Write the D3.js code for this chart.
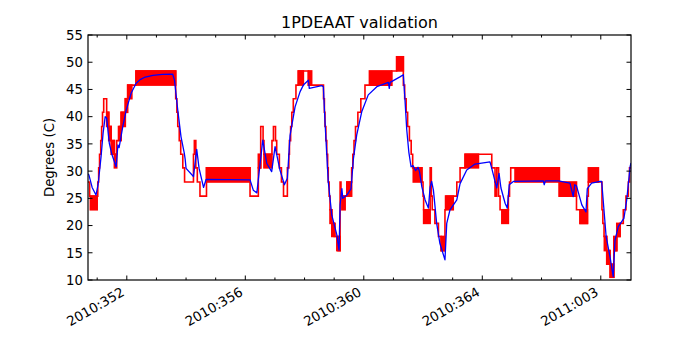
<!DOCTYPE html>
<html>
<head>
<meta charset="utf-8">
<script src="https://cdn.jsdelivr.net/npm/d3@7"></script>
<style>
  body { margin: 0; background: #fff; }
  svg { display: block; font-family: "DejaVu Sans", sans-serif; }
</style>
</head>
<body>
<svg id="chart" width="700" height="350"></svg>
<script>
// ---- data (x = day of 2010, so 2011:003 = 368) ----
const title = "1PDEAAT validation";
const yLabel = "Degrees (C)";
const xMajorDays = [352, 356, 360, 364, 368];
const xMajorLabels = ["2010:352", "2010:356", "2010:360", "2010:364", "2011:003"];
const yTicks = [10, 15, 20, 25, 30, 35, 40, 45, 50, 55];
const xDomain = [350.69, 369.02];
const yDomain = [10, 55];

// telemetry (red), stepped
const telemDays = [350.69, 350.745, 351.02, 351.05, 351.08, 351.12, 351.15, 351.18, 351.22, 351.32,
  351.39, 351.47, 351.58, 351.66, 351.72, 351.81, 351.95, 352.03, 352.31, 353.65,
  353.69, 353.72, 353.77, 353.82, 353.89, 353.95, 354.25, 354.28, 354.33, 354.38,
  354.47, 354.69, 356.16, 356.44, 356.52, 356.60, 356.63, 356.90, 356.95, 357.02,
  357.06, 357.15, 357.22, 357.29, 357.42, 357.47, 357.49, 357.53, 357.57, 357.62,
  357.71, 357.79, 358.13, 358.64, 358.67, 358.69, 358.72, 358.75, 358.78, 358.80,
  358.83, 358.86, 358.92, 359.00, 359.13, 359.20, 359.23, 359.43, 359.59, 359.63,
  359.67, 359.72, 359.80, 359.90, 360.04, 360.94, 361.11, 361.335, 361.38, 361.43,
  361.48, 361.54, 361.60, 361.65, 361.96, 362.00, 362.02, 362.24, 362.28, 362.31,
  362.40, 362.52, 362.61, 362.74, 362.76, 363.14, 363.25, 363.42, 364.32, 364.43,
  364.49, 364.55, 364.60, 364.88, 364.92, 364.96, 366.60, 367.18, 367.30, 367.55,
  367.58, 368.04, 368.07, 368.11, 368.20, 368.31, 368.38, 368.44, 368.54, 368.65,
  368.76, 368.85, 368.93, 368.97, 369.02];
const telemVals = [28.0, 25.4, 28.0, 30.6, 33.1, 35.6, 38.2, 40.8, 43.3, 40.8,
  38.2, 35.6, 33.1, 35.6, 38.2, 40.8, 43.3, 45.8, 48.4, 43.3,
  40.8, 38.2, 35.6, 33.1, 30.6, 28.0, 33.1, 35.6, 30.6, 28.0,
  25.4, 30.6, 25.4, 30.6, 38.2, 35.6, 33.1, 35.6, 38.2, 35.6,
  33.1, 30.6, 28.0, 25.4, 30.6, 33.1, 35.6, 38.2, 40.8, 43.3,
  45.8, 48.4, 45.8, 43.3, 40.8, 38.2, 35.6, 33.1, 30.6, 28.0,
  25.4, 22.9, 20.4, 18.0, 15.4, 28.0, 25.4, 28.0, 30.6, 33.1,
  35.6, 38.2, 40.8, 43.3, 45.8, 48.4, 51.0, 45.8, 43.3, 40.8,
  38.2, 35.6, 33.1, 30.6, 28.0, 25.4, 22.9, 30.6, 25.4, 22.9,
  20.4, 18.0, 15.4, 22.9, 25.4, 28.0, 30.6, 33.1, 30.6, 28.0,
  30.6, 25.4, 22.9, 25.4, 28.0, 30.6, 25.4, 22.9, 20.4, 25.4,
  28.0, 22.9, 20.4, 18.0, 15.4, 12.9, 10.5, 15.4, 18.0, 20.4,
  22.9, 25.4, 28.0, 30.6, 30.6];

// stretches where telemetry toggles between two counts: [start, end, low, high]
const telemToggles = [
  [350.77, 351.00, 22.9, 25.4], [351.32, 351.39, 38.2, 40.8], [351.39, 351.47, 35.6, 38.2],
  [351.47, 351.58, 33.1, 35.6], [351.58, 351.66, 30.6, 33.1], [351.75, 351.81, 35.6, 38.2],
  [351.81, 351.95, 38.2, 40.8], [351.95, 352.03, 40.8, 43.3], [352.03, 352.17, 43.3, 45.8],
  [352.31, 353.65, 45.8, 48.4], [354.69, 356.16, 28.0, 30.6], [356.44, 356.52, 30.6, 33.1],
  [356.63, 356.90, 30.6, 33.1], [357.79, 357.96, 45.8, 48.4], [358.13, 358.24, 45.8, 48.4],
  [358.86, 358.92, 20.4, 22.9], [358.92, 359.03, 18.0, 20.4], [359.09, 359.20, 15.4, 18.0],
  [359.26, 359.37, 22.9, 25.4], [359.43, 359.59, 25.4, 28.0], [360.19, 360.94, 45.8, 48.4],
  [361.11, 361.335, 48.4, 51.0], [361.67, 361.96, 28.0, 30.6], [362.02, 362.24, 20.4, 22.9],
  [362.61, 362.74, 15.4, 18.0], [362.78, 363.02, 22.9, 25.4], [363.42, 363.87, 30.6, 33.1],
  [364.43, 364.49, 25.4, 28.0], [364.66, 364.88, 20.4, 22.9], [365.105, 366.60, 28.0, 30.6],
  [366.60, 367.18, 25.4, 28.0], [367.30, 367.55, 20.4, 22.9], [367.58, 367.92, 28.0, 30.6],
  [368.12, 368.20, 15.4, 18.0], [368.20, 368.31, 12.9, 15.4], [368.31, 368.44, 10.5, 12.9],
  [368.44, 368.54, 15.4, 18.0], [368.54, 368.65, 18.0, 20.4]
];

// model (blue)
const modelDays = [350.69, 350.72, 350.83, 350.96, 351.03, 351.13, 351.20, 351.27, 351.32, 351.41,
  351.50, 351.64, 351.70, 351.74, 351.865, 351.98, 352.145, 352.31, 352.45, 352.59,
  352.88, 353.20, 353.55, 353.61, 353.72, 353.83, 353.94, 353.97, 354.00, 354.25,
  354.36, 354.44, 354.59, 354.68, 356.16, 356.27, 356.39, 356.50, 356.59, 356.725,
  356.89, 357.005, 357.17, 357.32, 357.42, 357.51, 357.68, 357.85, 357.96, 358.13,
  358.16, 358.58, 358.635, 358.69, 358.80, 358.92, 359.09, 359.165, 359.20, 359.26,
  359.29, 359.43, 359.57, 359.65, 359.76, 359.93, 360.15, 360.44, 360.83, 360.86,
  360.89, 361.22, 361.335, 361.39, 361.45, 361.52, 361.595, 361.66, 361.75, 361.83,
  361.88, 361.96, 362.07, 362.18, 362.24, 362.29, 362.35, 362.46, 362.57, 362.74,
  362.80, 362.91, 363.14, 363.25, 363.475, 363.755, 364.26, 364.32, 364.43, 364.49,
  364.565, 364.63, 364.77, 364.845, 364.91, 365.05, 366.06, 366.09, 366.13, 366.57,
  366.96, 367.07, 367.12, 367.18, 367.36, 367.50, 367.545, 367.69, 367.97, 368.03,
  368.18, 368.31, 368.42, 368.48, 368.59, 368.78, 368.875, 368.99, 369.02];
const modelVals = [29.5, 29.3, 27.0, 25.6, 27.5, 32.6, 37.0, 40.0, 39.7, 35.1,
  33.0, 30.8, 34.8, 34.3, 38.2, 41.2, 44.3, 46.1, 46.8, 47.2,
  47.6, 47.75, 47.8, 46.7, 41.2, 36.3, 33.3, 32.2, 30.5, 29.0,
  34.0, 30.5, 27.0, 28.5, 28.4, 26.5, 26.0, 31.4, 35.7, 31.4,
  29.9, 34.5, 30.2, 27.5, 28.7, 36.5, 41.8, 44.6, 45.8, 46.7,
  45.2, 45.7, 45.5, 39.1, 28.1, 21.9, 18.3, 15.5, 23.8, 26.8,
  25.0, 25.6, 26.8, 32.3, 36.6, 40.9, 44.0, 45.5, 46.3, 45.2,
  46.3, 47.3, 47.7, 43.1, 37.6, 33.5, 30.8, 31.0, 30.1, 30.7,
  29.9, 27.1, 24.7, 23.2, 27.1, 28.1, 26.5, 20.4, 16.7, 13.7,
  20.4, 22.9, 24.7, 27.7, 30.2, 31.3, 31.7, 30.5, 28.1, 26.9,
  29.6, 26.9, 24.1, 23.2, 27.5, 28.1, 28.2, 27.5, 28.2, 28.2,
  27.8, 25.3, 27.5, 27.3, 23.8, 22.5, 26.8, 27.8, 28.1, 28.1,
  18.0, 14.3, 10.6, 17.3, 19.8, 21.3, 24.7, 30.8, 31.5];

// ---- layout ----
const svg = d3.select("#chart");
const margin = { left: 88, top: 35, right: 69, bottom: 70 };
const W = 700 - margin.left - margin.right;
const H = 350 - margin.top - margin.bottom;

const x = d3.scaleLinear().domain(xDomain).range([0, W]);
const y = d3.scaleLinear().domain(yDomain).range([H, 0]);

const g = svg.append("g").attr("transform", `translate(${margin.left},${margin.top})`);

g.append("clipPath").attr("id", "plot-clip")
  .append("rect").attr("width", W).attr("height", H);

const plot = g.append("g").attr("clip-path", "url(#plot-clip)");

/* red telemetry: toggling blocks + stepped line */
plot.selectAll("rect.toggle")
  .data(telemToggles)
  .enter()
  .append("rect")
  .attr("class", "toggle")
  .attr("x", d => x(d[0]))
  .attr("width", d => x(d[1]) - x(d[0]))
  .attr("y", d => y(d[3]))
  .attr("height", d => y(d[2]) - y(d[3]))
  .style("fill", "#ff0000")
  .style("stroke", "#ff0000")
  .style("stroke-width", 1.6);

const telem = telemDays.map((d, i) => [d, telemVals[i]]);
plot.append("path")
  .datum(telem)
  .attr("d", d3.line().x(d => x(d[0])).y(d => y(d[1])).curve(d3.curveStepAfter))
  .style("fill", "none")
  .style("stroke", "#ff0000")
  .style("stroke-width", 1.6);

/* blue model */
const model = modelDays.map((d, i) => [d, modelVals[i]]);
plot.append("path")
  .datum(model)
  .attr("d", d3.line().x(d => x(d[0])).y(d => y(d[1])))
  .style("fill", "none")
  .style("stroke", "#0000ff")
  .style("stroke-width", 1.3)
  .style("stroke-linejoin", "round");

/* ---- axes (matplotlib style: inward ticks on all sides) ---- */
const minorDays = d3.range(351, 369).filter(d => !xMajorDays.includes(d));

function xTicks(days, len) {
  g.selectAll(null).data(days).enter().append("line")
    .attr("x1", d => x(d)).attr("x2", d => x(d))
    .attr("y1", H).attr("y2", H - len)
    .style("stroke", "#000").style("stroke-width", 1);
  g.selectAll(null).data(days).enter().append("line")
    .attr("x1", d => x(d)).attr("x2", d => x(d))
    .attr("y1", 0).attr("y2", len)
    .style("stroke", "#000").style("stroke-width", 1);
}
xTicks(xMajorDays, 4.5);
xTicks(minorDays, 2.5);

g.selectAll(null).data(yTicks).enter().append("line")
  .attr("x1", 0).attr("x2", 4.5)
  .attr("y1", d => y(d)).attr("y2", d => y(d))
  .style("stroke", "#000");
g.selectAll(null).data(yTicks).enter().append("line")
  .attr("x1", W).attr("x2", W - 4.5)
  .attr("y1", d => y(d)).attr("y2", d => y(d))
  .style("stroke", "#000");

g.append("rect")
  .attr("width", W).attr("height", H)
  .style("fill", "none").style("stroke", "#000").style("stroke-width", 1.2);

g.selectAll(null).data(yTicks).enter().append("text")
  .attr("x", -5).attr("y", d => y(d))
  .attr("dy", "0.36em")
  .attr("text-anchor", "end")
  .style("font-size", "13.3px")
  .text(d => d);

// rotated date labels, right end tucked under the tick
g.selectAll(null).data(xMajorDays).enter().append("text")
  .attr("transform", d => `translate(${x(d) - 6.5},${H + 6}) rotate(-30)`)
  .attr("dy", "0.76em")
  .attr("text-anchor", "end")
  .style("font-size", "13.3px")
  .text((d, i) => xMajorLabels[i]);

g.append("text")
  .attr("transform", `translate(-34,${H / 2}) rotate(-90)`)
  .attr("text-anchor", "middle")
  .style("font-size", "13.3px")
  .text(yLabel);

g.append("text")
  .attr("x", W / 2).attr("y", -7)
  .attr("text-anchor", "middle")
  .style("font-size", "16px")
  .text(title);
</script>
</body>
</html>
